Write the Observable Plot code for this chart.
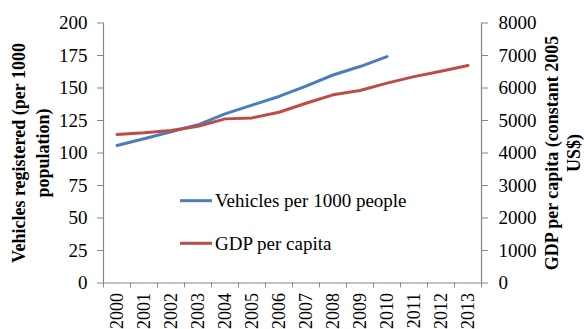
<!DOCTYPE html>
<html>
<head>
<meta charset="utf-8">
<script src="https://cdn.jsdelivr.net/npm/d3@7"></script>
<script src="https://cdn.jsdelivr.net/npm/@observablehq/plot@0.6"></script>
<style>
  html, body { margin: 0; padding: 0; background: #fff; }
  svg { display: block; }
</style>
</head>
<body>
<div id="chart"></div>
<script>
// ---- data ----
const years = [2000, 2001, 2002, 2003, 2004, 2005, 2006, 2007, 2008, 2009, 2010, 2011, 2012, 2013];
const vehicles = [105.8, 111.0, 116.3, 121.7, 130.1, 136.8, 143.5, 151.5, 160.0, 166.5, 174.2];
const gdpPerCapita = [4570, 4620, 4690, 4820, 5050, 5080, 5255, 5530, 5790, 5925, 6150, 6350, 6515, 6690];
const leftTicks = [0, 25, 50, 75, 100, 125, 150, 175, 200];
const rightTicks = [0, 1000, 2000, 3000, 4000, 5000, 6000, 7000, 8000];
const seriesNames = ["Vehicles per 1000 people", "GDP per capita"];
const seriesColors = ["#4A7EBB", "#BE4B48"];
const leftTitle = ["Vehicles registered (per 1000", "population)"];
const rightTitle = ["GDP per capita (constant 2005", "US$)"];

// ---- derived tables ----
const ratio = rightTicks[rightTicks.length - 1] / leftTicks[leftTicks.length - 1];
const vData = vehicles.map((v, i) => ({year: years[i], value: v}));
const gData = gdpPerCapita.map((v, i) => ({year: years[i], value: v}));
const bounds = years.map(y => y - 0.5).concat([years[years.length - 1] + 0.5]);

const font = "'Liberation Serif', 'Times New Roman', serif";
const axisGray = "#868686";
const titleOpts = {text: d => d, rotate: -90, textAnchor: "middle", lineAnchor: "middle", fontSize: 18, fontWeight: "bold", fill: "#000"};

const plot = Plot.plot({
  width: 584,
  height: 329,
  marginLeft: 103,
  marginRight: 103,
  marginTop: 22.5,
  marginBottom: 46.5,
  style: {fontFamily: font, color: "#000", background: "#fff", overflow: "visible"},
  x: {domain: [bounds[0], bounds[bounds.length - 1]]},
  y: {domain: [leftTicks[0], leftTicks[leftTicks.length - 1]]},
  marks: [
    // left axis
    Plot.axisY({anchor: "left", ticks: leftTicks, tickSize: 6, tickPadding: 10, stroke: axisGray, fill: "#000", fontSize: 19, label: null}),
    // right axis (GDP, scaled to left units)
    Plot.axisY({anchor: "right", ticks: rightTicks.map(v => v / ratio), tickFormat: d => String(Math.round(d * ratio)),
      tickSize: 6, tickPadding: 11, stroke: axisGray, fill: "#000", fontSize: 19, label: null, textAnchor: "start"}),
    // x tick marks at category boundaries
    Plot.axisX({ticks: bounds, tickSize: 5, tickFormat: () => "", stroke: axisGray, label: null}),
    // x labels
    Plot.axisX({ticks: years, tickSize: 0, tickPadding: 10, tickRotate: -90, tickFormat: d => String(d), fill: "#000", fontSize: 18, label: null}),
    // axis lines
    Plot.ruleX([bounds[0], bounds[bounds.length - 1]], {stroke: axisGray, strokeWidth: 1.2}),
    Plot.ruleY([0], {stroke: axisGray, strokeWidth: 1.2}),
    // series
    Plot.lineY(vData, {x: "year", y: "value", stroke: seriesColors[0], strokeWidth: 3}),
    Plot.lineY(gData, {x: "year", y: d => d.value / ratio, stroke: seriesColors[1], strokeWidth: 3}),
    // axis titles
    Plot.text([leftTitle[0]], {...titleOpts, frameAnchor: "left", dx: -84}),
    Plot.text([leftTitle[1]], {...titleOpts, frameAnchor: "left", dx: -60}),
    Plot.text([rightTitle[0]], {...titleOpts, frameAnchor: "right", dx: 71}),
    Plot.text([rightTitle[1]], {...titleOpts, frameAnchor: "right", dx: 93})
  ]
});

// in-plot legend
const svg = d3.select(plot);
const legendYs = [200.7, 243.3];
const lg = svg.append("g").attr("font-family", font).attr("font-size", 19).attr("text-anchor", "start");
seriesNames.forEach((name, i) => {
  lg.append("line").attr("x1", 180).attr("x2", 212).attr("y1", legendYs[i]).attr("y2", legendYs[i])
    .attr("stroke", seriesColors[i]).attr("stroke-width", 3);
  lg.append("text").attr("x", 215).attr("y", legendYs[i]).attr("dy", "0.33em").attr("fill", "#000").text(name);
});

document.getElementById("chart").appendChild(plot);
</script>
</body>
</html>
